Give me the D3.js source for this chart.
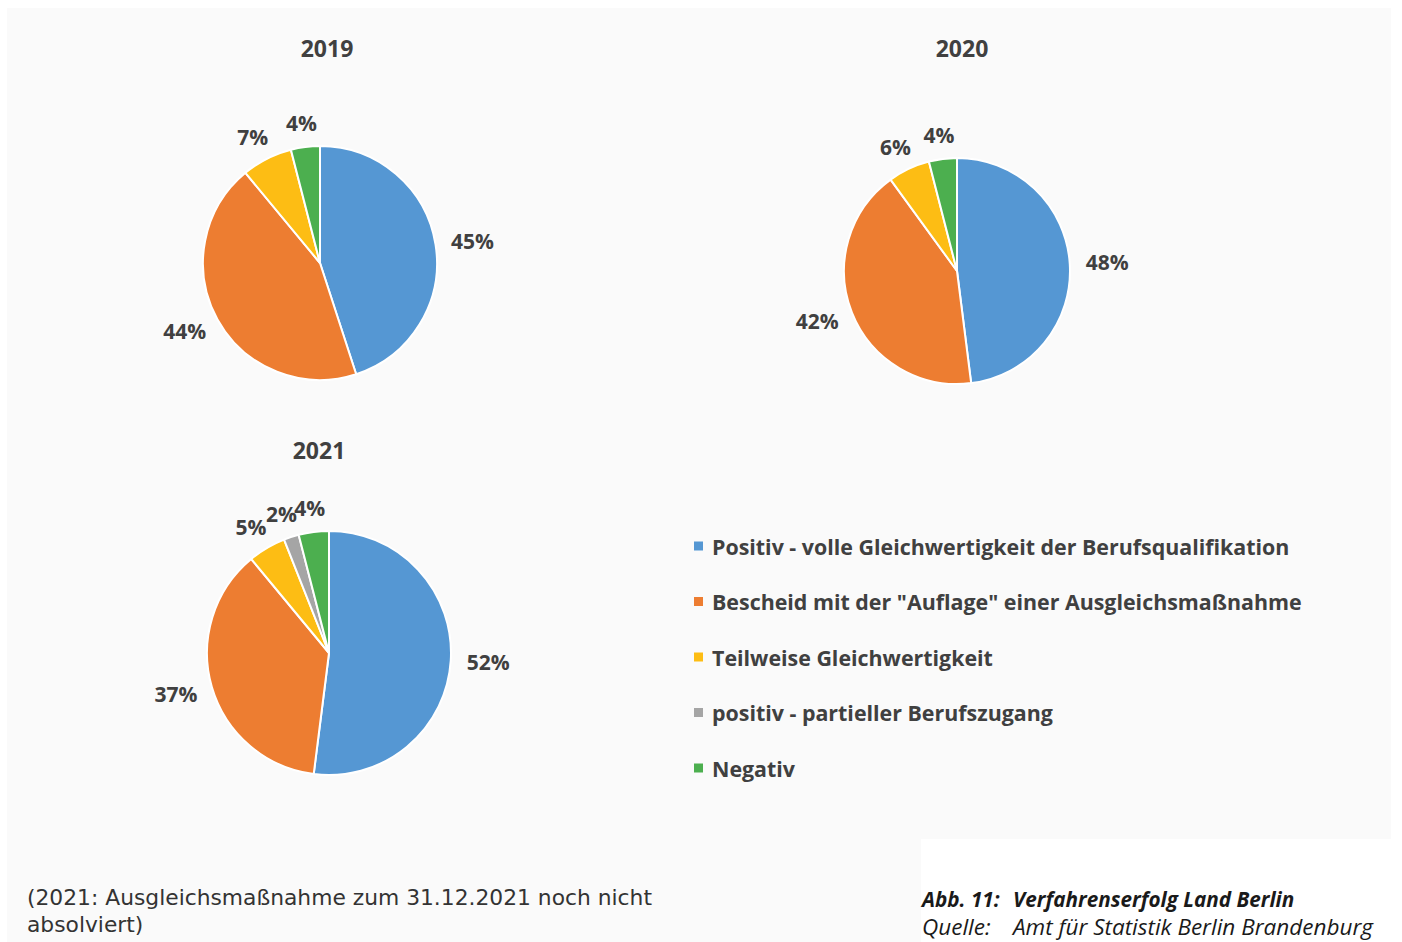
<!DOCTYPE html>
<html>
<head>
<meta charset="utf-8">
<script src="https://cdn.jsdelivr.net/npm/d3@7"></script>
<style>
  html, body { margin: 0; padding: 0; background: #ffffff; }
  svg { display: block; }
</style>
</head>
<body>
<svg id="chart" width="1402" height="942"></svg>
<script>
// Verfahrenserfolg Land Berlin - three pies (2019, 2020, 2021) + shared legend

const categories = [
  "Positiv - volle Gleichwertigkeit der Berufsqualifikation",
  "Bescheid mit der \"Auflage\" einer Ausgleichsmaßnahme",
  "Teilweise Gleichwertigkeit",
  "positiv - partieller Berufszugang",
  "Negativ"
];
const colors = ["#5597d3", "#ed7d31", "#fdbd14", "#a5a5a5", "#4caf4f"];

const years = ["2019", "2020", "2021"];
const values2019 = [45, 44, 7, 0, 4];
const values2020 = [48, 42, 6, 0, 4];
const values2021 = [52, 37, 5, 2, 4];

const noteLines = ["(2021: Ausgleichsmaßnahme zum 31.12.2021 noch nicht", "absolviert)"];
const captionTitle = ["Abb. 11:", "Verfahrenserfolg Land Berlin"];
const captionSource = ["Quelle:", "Amt für Statistik Berlin Brandenburg"];

const textColor = "#404040";
const chartFont = "'Open Sans', Lato, sans-serif";
const svg = d3.select("#chart");

// light grey page background of the pasted figure, with a white notch for the caption
svg.append("path")
  .attr("d", "M7,8 H1391 V839 H921 V942 H7 Z")
  .attr("fill", "#fafafa");

const color = d3.scaleOrdinal().domain(categories).range(colors);

// layout of the three small charts
const charts = [
  { year: years[0], values: values2019, cx: 320, cy: 263, r: 117, tx: 327, ty: 48 },
  { year: years[1], values: values2020, cx: 957, cy: 271, r: 113, tx: 962, ty: 48 },
  { year: years[2], values: values2021, cx: 329, cy: 653, r: 122, tx: 319, ty: 450 }
];

const pie = d3.pie().sort(null).value(d => d.value);

charts.forEach(c => {
  const data = categories.map((k, i) => ({ key: k, value: c.values[i] }));
  const arcs = pie(data).filter(a => a.data.value > 0);
  const arc = d3.arc().innerRadius(0).outerRadius(c.r);

  svg.append("text")
    .attr("x", c.tx).attr("y", c.ty)
    .attr("text-anchor", "middle").attr("dominant-baseline", "central")
    .attr("font-family", chartFont)
    .attr("font-weight", 700).attr("font-size", 23)
    .attr("fill", textColor)
    .text(c.year);

  const g = svg.append("g").attr("transform", `translate(${c.cx},${c.cy})`);

  g.selectAll("path")
    .data(arcs)
    .enter()
    .append("path")
    .attr("d", arc)
    .attr("fill", d => color(d.data.key))
    .attr("stroke", "#ffffff")
    .attr("stroke-width", 2)
    .attr("stroke-linejoin", "round");

  // outside-end labels: box touches a point just beyond the rim
  const gap = 16;
  g.selectAll("text.lbl")
    .data(arcs)
    .enter()
    .append("text")
    .attr("class", "lbl")
    .attr("text-anchor", "middle").attr("dominant-baseline", "central")
    .attr("font-family", chartFont)
    .attr("font-weight", 700).attr("font-size", 21)
    .attr("fill", textColor)
    .text(d => d.data.value + "%")
    .each(function (d) {
      const a = (d.startAngle + d.endAngle) / 2;
      const w = this.getComputedTextLength();
      const h = 16;
      const rr = c.r + gap;
      const x = Math.sin(a) * rr + Math.sin(a) * w / 2;
      const y = -Math.cos(a) * rr - Math.cos(a) * h / 2;
      d3.select(this).attr("x", x).attr("y", y);
    });
});

// legend
const legend = svg.append("g").attr("transform", "translate(694,546)");
const rows = legend.selectAll("g")
  .data(categories)
  .enter()
  .append("g")
  .attr("transform", (d, i) => `translate(0,${i * 55.5})`);

rows.append("rect")
  .attr("x", 0).attr("y", -4.5)
  .attr("width", 9).attr("height", 9)
  .attr("fill", d => color(d));

rows.append("text")
  .attr("x", 18).attr("y", 0)
  .attr("dominant-baseline", "central")
  .attr("font-family", chartFont)
  .attr("font-weight", 700).attr("font-size", 21.4)
  .attr("fill", textColor)
  .text(d => d);

// note under the 2021 pie
svg.append("g").selectAll("text")
  .data(noteLines)
  .enter()
  .append("text")
  .attr("x", 27)
  .attr("y", (d, i) => 905 + i * 27)
  .attr("font-family", "'DejaVu Sans', sans-serif")
  .attr("font-size", 21.8)
  .attr("fill", "#333333")
  .text(d => d);

// figure caption
const cap = svg.append("g")
  .attr("font-family", "'Open Sans', sans-serif")
  .attr("font-style", "italic")
  .attr("fill", "#1a1a1a");

cap.append("text").attr("x", 922).attr("y", 907).attr("font-size", 20.7).attr("font-weight", 700).text(captionTitle[0]);
cap.append("text").attr("x", 1013).attr("y", 907).attr("font-size", 20.7).attr("font-weight", 700).text(captionTitle[1]);
cap.append("text").attr("x", 922).attr("y", 935).attr("font-size", 22.5).text(captionSource[0]);
cap.append("text").attr("x", 1013).attr("y", 935).attr("font-size", 22.5).text(captionSource[1]);
</script>
</body>
</html>
